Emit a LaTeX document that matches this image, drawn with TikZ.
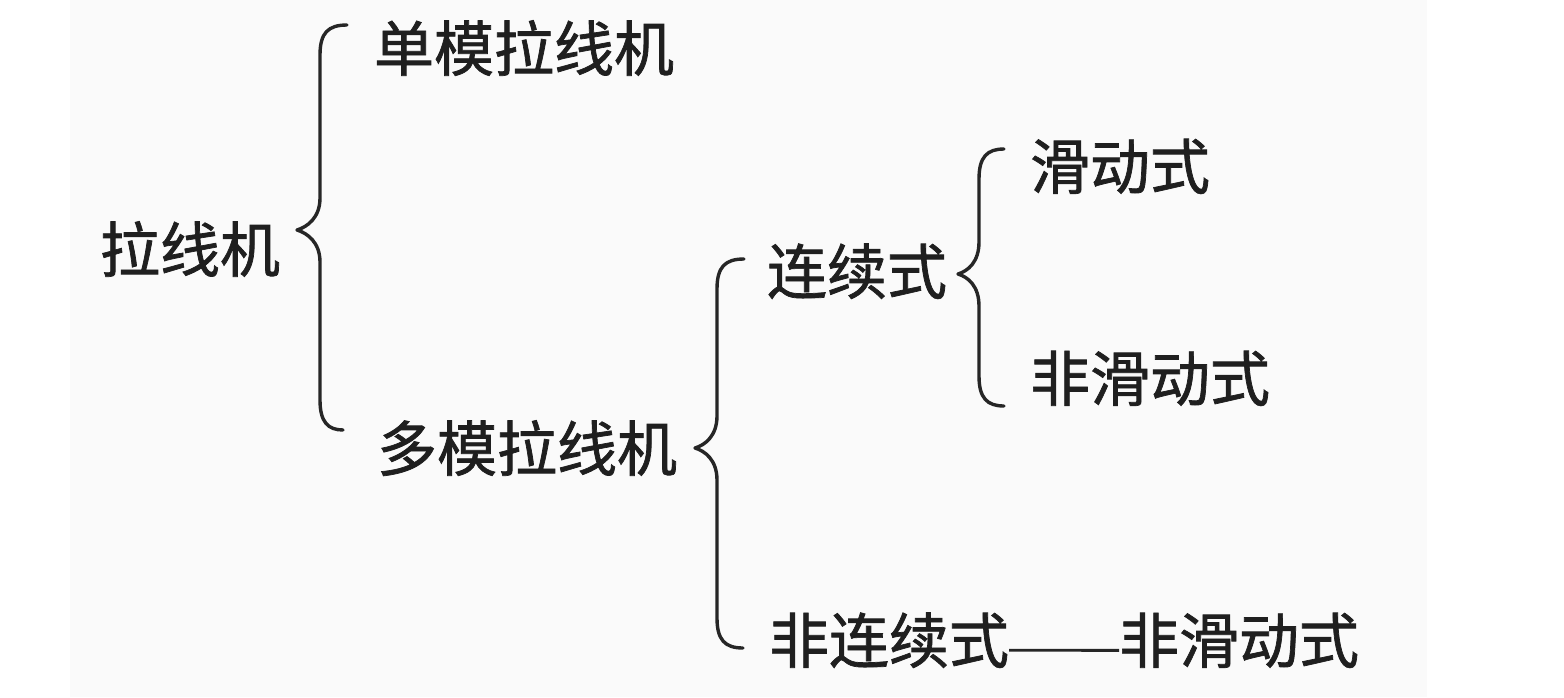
\documentclass[tikz,border=0pt]{standalone}
\usepackage{fontspec}
\newfontfamily\cjk[FakeBold=1.2]{Noto Sans CJK SC}
\begin{document}
\begin{tikzpicture}[x=0.5pt,y=-0.5pt,
  lbl/.style={anchor=base west,inner sep=0pt,outer sep=0pt,text=black!88,
    font=\cjk\fontsize{30pt}{36pt}\selectfont},
  bracepath/.style={draw=black!85,line width=1.7pt,line cap=round,line join=round},
  link/.style={draw=black!85,line width=1.4pt}]
\useasboundingbox (0,0) rectangle (1564,697);
\fill[black!2] (70,0) rectangle (1427,697);
% nodes
\node[lbl] (root) at (100,272) {拉线机};
\node[lbl] (single) at (374,71) {单模拉线机};
\node[lbl] (multi) at (377,471) {多模拉线机};
\node[lbl] (cont) at (767,294) {连续式};
\node[lbl] (slide) at (1030,189) {滑动式};
\node[lbl] (nslide) at (1030,401) {非滑动式};
\node[lbl] (ncont) at (769,663) {非连续式};
\node[lbl] (nslide2) at (1119,663) {非滑动式};
% braces: tip top, vertical x, cusp, tip bottom
\newcommand\mybrace[7]{% #1 tipx top, #2 ytop, #3 vx, #4 cuspx, #5 ymid, #6 tipx bottom, #7 ybot
  \draw[bracepath] (#1,#2) .. controls (#3+8,#2) and (#3,#2+8) .. (#3,#2+30)
    -- (#3,#5-32) .. controls (#3,#5-12) and (#4+10,#5-3) .. (#4,#5)
    .. controls (#4+10,#5+3) and (#3,#5+12) .. (#3,#5+32)
    -- (#3,#7-30) .. controls (#3,#7-8) and (#3+8,#7) .. (#6,#7);}
\mybrace{347}{25}{320}{297}{230}{343}{430}
\mybrace{744}{259}{717}{695}{448}{743}{648}
\mybrace{1004}{149}{979}{958}{274}{1004}{406}
% connector
\draw[link] ([yshift=-5pt]ncont.east) -- ([yshift=-5pt]nslide2.west);
\end{tikzpicture}
\end{document}
